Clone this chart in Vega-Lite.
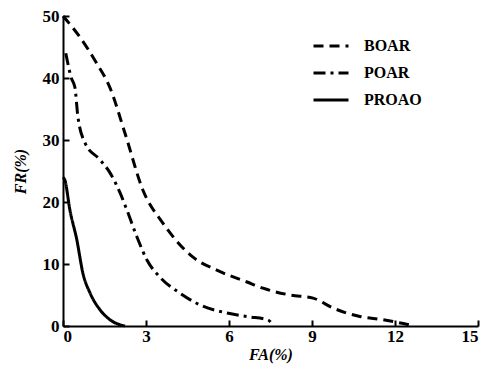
{
  "$schema": "https://vega.github.io/schema/vega-lite/v6.json",
  "width": 415,
  "height": 310,
  "autosize": {"type": "none"},
  "padding": {"left": 63, "top": 16, "right": 12, "bottom": 46},
  "background": "white",
  "config": {
    "view": {"stroke": null},
    "font": "Liberation Serif"
  },
  "data": {
    "values": [
      {"series": "BOAR", "i": 0, "x": 0, "y": 50},
      {"series": "BOAR", "i": 1, "x": 0.61, "y": 46.6},
      {"series": "BOAR", "i": 2, "x": 1.2, "y": 42.5},
      {"series": "BOAR", "i": 3, "x": 1.7, "y": 38.4},
      {"series": "BOAR", "i": 4, "x": 2.24, "y": 31.1},
      {"series": "BOAR", "i": 5, "x": 2.89, "y": 21.9},
      {"series": "BOAR", "i": 6, "x": 3.61, "y": 16.6},
      {"series": "BOAR", "i": 7, "x": 4.7, "y": 11.1},
      {"series": "BOAR", "i": 8, "x": 5.56, "y": 9.0},
      {"series": "BOAR", "i": 9, "x": 6.65, "y": 7.1},
      {"series": "BOAR", "i": 10, "x": 7.23, "y": 6.1},
      {"series": "BOAR", "i": 11, "x": 8.2, "y": 5.0},
      {"series": "BOAR", "i": 12, "x": 9.04, "y": 4.5},
      {"series": "BOAR", "i": 13, "x": 9.76, "y": 2.9},
      {"series": "BOAR", "i": 14, "x": 10.66, "y": 1.6},
      {"series": "BOAR", "i": 15, "x": 11.57, "y": 1.0},
      {"series": "BOAR", "i": 16, "x": 12.3, "y": 0.4},
      {"series": "BOAR", "i": 17, "x": 12.7, "y": 0},
      {"series": "POAR", "i": 0, "x": 0.1, "y": 44},
      {"series": "POAR", "i": 1, "x": 0.3, "y": 40},
      {"series": "POAR", "i": 2, "x": 0.43, "y": 38.5},
      {"series": "POAR", "i": 3, "x": 0.54, "y": 33.7},
      {"series": "POAR", "i": 4, "x": 0.8, "y": 29.5},
      {"series": "POAR", "i": 5, "x": 1.34, "y": 26.8},
      {"series": "POAR", "i": 6, "x": 1.7, "y": 24.7},
      {"series": "POAR", "i": 7, "x": 2.06, "y": 21.5},
      {"series": "POAR", "i": 8, "x": 2.31, "y": 18.7},
      {"series": "POAR", "i": 9, "x": 2.67, "y": 14.4},
      {"series": "POAR", "i": 10, "x": 3.04, "y": 10.6},
      {"series": "POAR", "i": 11, "x": 3.5, "y": 7.9},
      {"series": "POAR", "i": 12, "x": 4.23, "y": 5.3},
      {"series": "POAR", "i": 13, "x": 4.95, "y": 3.4},
      {"series": "POAR", "i": 14, "x": 5.93, "y": 2.1},
      {"series": "POAR", "i": 15, "x": 6.7, "y": 1.5},
      {"series": "POAR", "i": 16, "x": 7.4, "y": 1.0},
      {"series": "POAR", "i": 17, "x": 7.6, "y": 0},
      {"series": "PROAO", "i": 0, "x": 0, "y": 24},
      {"series": "PROAO", "i": 1, "x": 0.07, "y": 23.5},
      {"series": "PROAO", "i": 2, "x": 0.25, "y": 18.7},
      {"series": "PROAO", "i": 3, "x": 0.5, "y": 13.9},
      {"series": "PROAO", "i": 4, "x": 0.72, "y": 8.5},
      {"series": "PROAO", "i": 5, "x": 0.98, "y": 5.3},
      {"series": "PROAO", "i": 6, "x": 1.34, "y": 2.6},
      {"series": "PROAO", "i": 7, "x": 1.7, "y": 1.0},
      {"series": "PROAO", "i": 8, "x": 2.24, "y": 0}
    ]
  },
  "mark": {"type": "line", "color": "black", "strokeWidth": 3, "interpolate": "monotone"},
  "encoding": {
    "x": {
      "field": "x", "type": "quantitative",
      "scale": {"domain": [0, 15], "nice": false, "zero": true},
      "axis": {
        "values": [0, 3, 6, 9, 12, 15],
        "title": "FA(%)",
        "titleFont": "Liberation Serif", "titleFontSize": 16, "titleFontWeight": "bold", "titleFontStyle": "italic",
        "titleColor": "black", "titlePadding": 2,
        "labelFont": "Liberation Serif", "labelFontSize": 17, "labelFontWeight": "bold", "labelColor": "black",
        "labelPadding": 8,
        "grid": false, "domainColor": "black", "domainWidth": 2,
        "tickColor": "black", "tickWidth": 2, "tickSize": -6
      }
    },
    "y": {
      "field": "y", "type": "quantitative",
      "scale": {"domain": [0, 50], "nice": false},
      "axis": {
        "values": [0, 10, 20, 30, 40, 50],
        "title": "FR(%)",
        "titleFont": "Liberation Serif", "titleFontSize": 16, "titleFontWeight": "bold", "titleFontStyle": "italic",
        "titleColor": "black", "titlePadding": 14,
        "labelFont": "Liberation Serif", "labelFontSize": 17, "labelFontWeight": "bold", "labelColor": "black",
        "labelPadding": 10,
        "grid": false, "domainColor": "black", "domainWidth": 2,
        "tickColor": "black", "tickWidth": 2, "tickSize": -6
      }
    },
    "order": {"field": "i", "type": "quantitative"},
    "strokeDash": {
      "field": "series", "type": "nominal",
      "scale": {"domain": ["BOAR", "POAR", "PROAO"], "range": [[10, 6], [12, 5, 3, 5], [1, 0]]},
      "legend": {
        "title": null, "orient": "none", "legendX": 249, "legendY": 11,
        "symbolType": "stroke", "symbolSize": 1225, "symbolStrokeWidth": 3, "symbolStrokeColor": "black",
        "labelFont": "Liberation Serif", "labelFontSize": 16, "labelFontWeight": "bold", "labelColor": "black",
        "rowPadding": -8, "labelOffset": 14
      }
    }
  }
}
